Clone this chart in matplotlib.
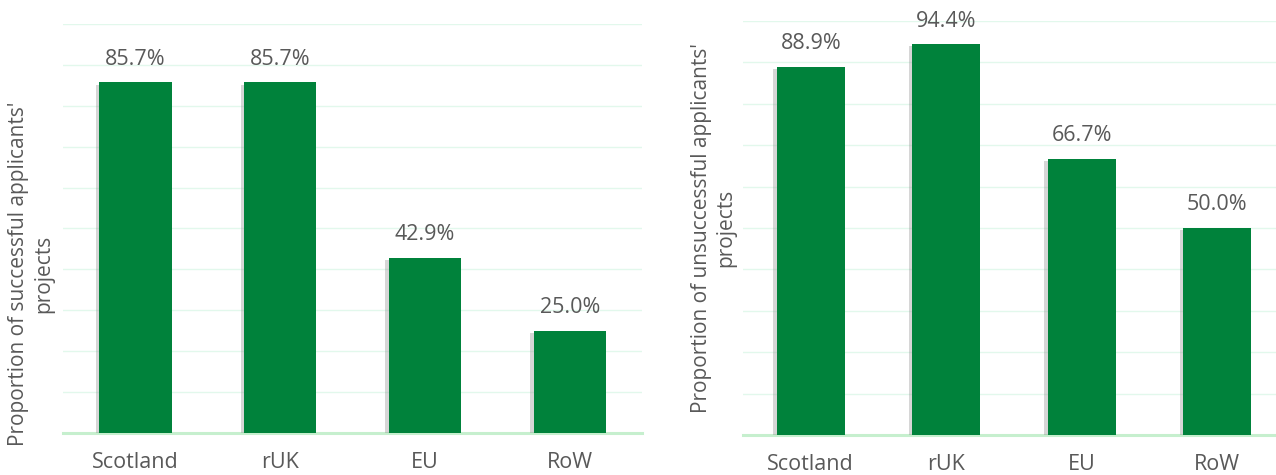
import matplotlib.pyplot as plt
import matplotlib.patheffects as pe

plt.rcParams['font.family'] = ['Open Sans', 'DejaVu Sans']

regions = ['Scotland', 'rUK', 'EU', 'RoW']
successful = [0.857, 0.857, 0.429, 0.250]
unsuccessful = [0.889, 0.944, 0.667, 0.500]

bar_color = '#00823B'
grid_color = '#E2F8EC'
base_color = '#C6EFCE'
text_color = '#595959'

fig = plt.figure(figsize=(12.76, 4.75), dpi=100)
ax1 = fig.add_axes([0.0494, 0.0884, 0.4538, 0.8611])
ax2 = fig.add_axes([0.5823, 0.0842, 0.4248, 0.8716])

shadow = [pe.SimplePatchShadow(offset=(-2.5, -1.5), shadow_rgbFace='#8a8a8a', alpha=0.35),
          pe.Normal()]


def draw(ax, values, ylabel, label_x, label_y):
    x = range(len(regions))
    # light gridlines every 10%
    for g in [i / 10 for i in range(1, 11)]:
        ax.axhline(g, color=grid_color, lw=1, zorder=0)
    ax.axhline(0, color=base_color, lw=2.2, zorder=1, clip_on=False)
    bars = ax.bar(x, values, width=0.5, color=bar_color, zorder=2)
    for b in bars:
        b.set_path_effects(shadow)
    for xi, v in zip(x, values):
        ax.annotate(f'{v * 100:.1f}%', (xi, v), xytext=(0, 9), textcoords='offset points',
                    ha='center', va='bottom', fontsize=15.5, color=text_color)
    ax.set_xlim(-0.5, 3.5)
    ax.set_ylim(0, 1)
    ax.set_xticks(list(x))
    ax.set_xticklabels(regions, fontsize=15.5, color=text_color)
    ax.tick_params(axis='x', length=0, pad=14)
    ax.set_yticks([])
    for s in ax.spines.values():
        s.set_visible(False)
    ax.set_ylabel(ylabel, fontsize=15, color=text_color, linespacing=1.25)
    ax.yaxis.set_label_coords(label_x, label_y)


draw(ax1, successful, "Proportion of successful applicants'\nprojects", -0.016, 0.39)
draw(ax2, unsuccessful, "Proportion of unsuccessful applicants'\nprojects", -0.012, 0.5)

fig.savefig('out.png', dpi=100)
